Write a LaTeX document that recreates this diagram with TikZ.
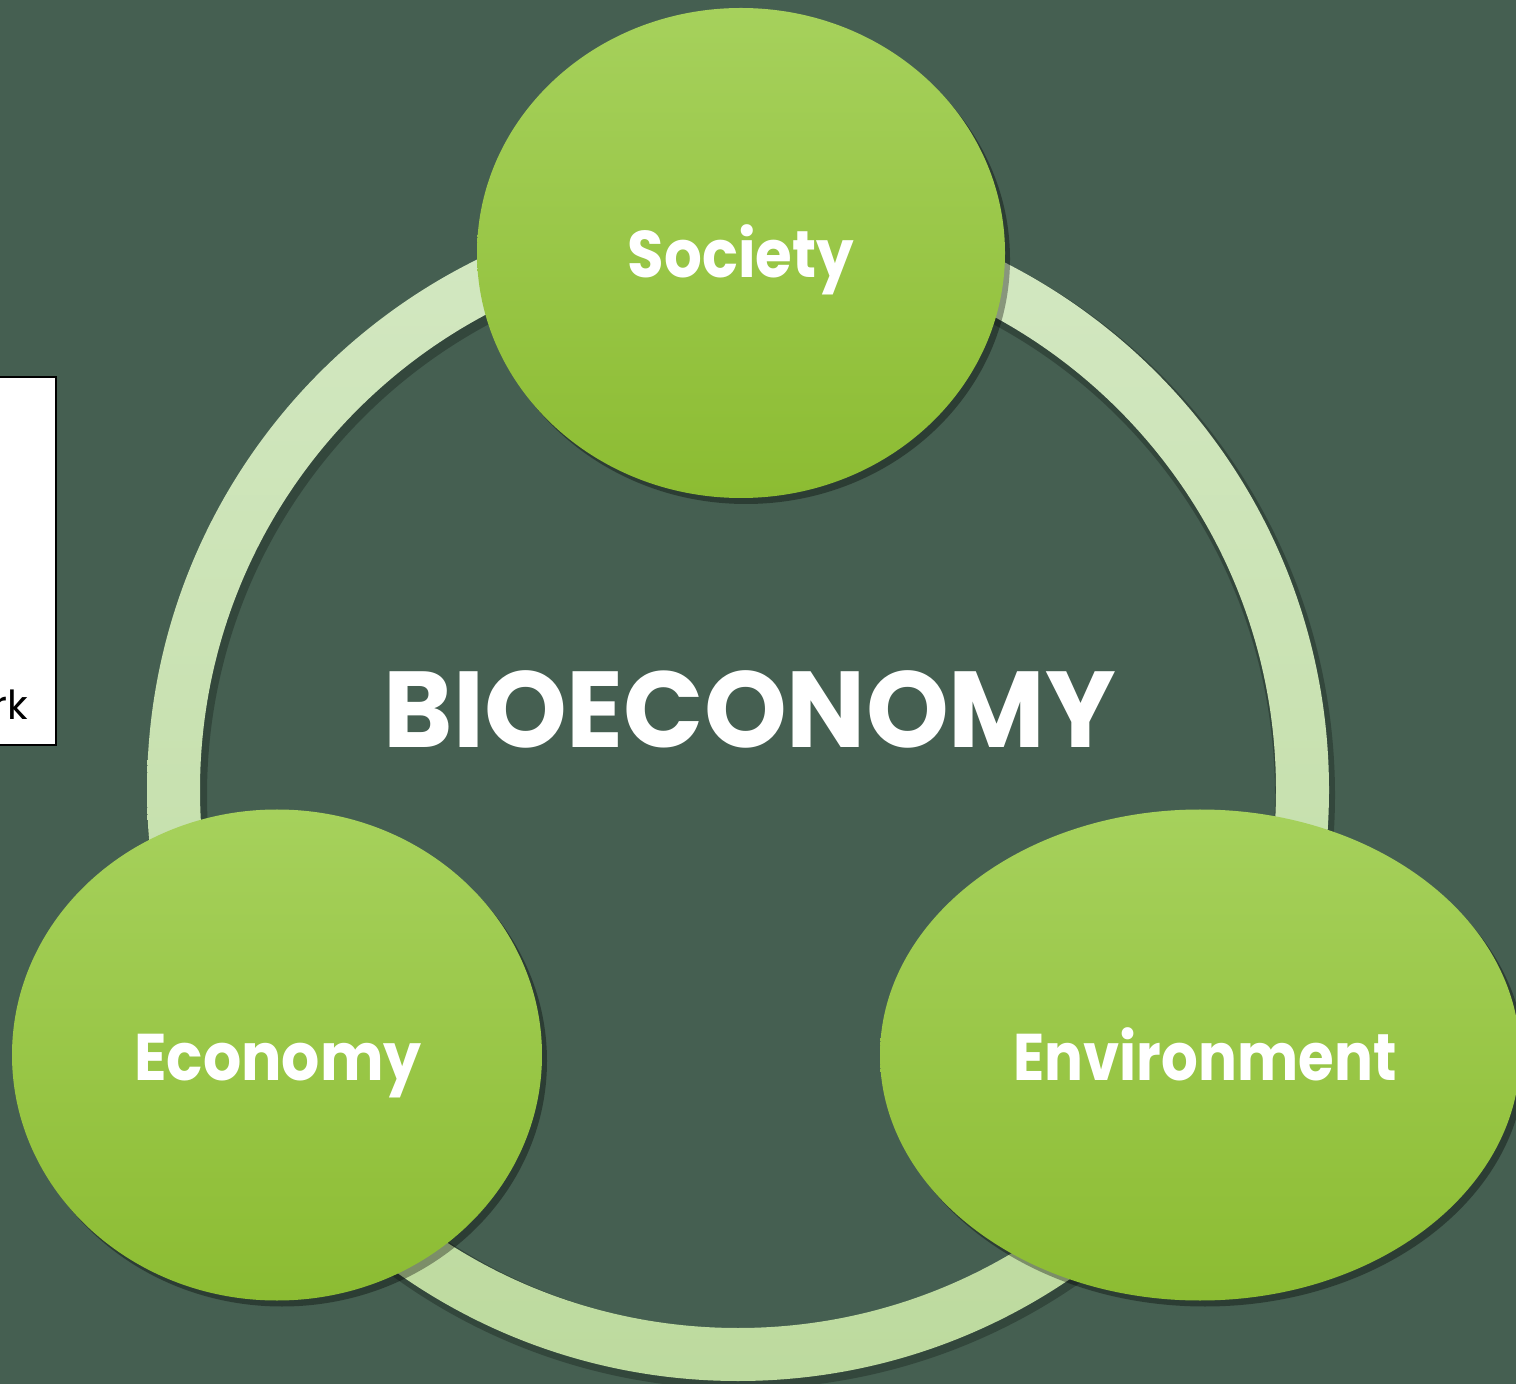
\documentclass[tikz,border=0pt]{standalone}
\usepackage{fontspec}
\usepackage{graphicx}
\setmainfont{Poppins}
\usetikzlibrary{shapes.geometric,shadows}
\definecolor{bg}{HTML}{455F51}
\definecolor{bubtop}{HTML}{A6D15C}
\definecolor{bubbot}{HTML}{8CBC32}
\definecolor{ringtop}{HTML}{D3E8C2}
\definecolor{ringbot}{HTML}{BDDA9E}
\newcommand{\hsq}[2]{\scalebox{#1}[1]{#2}}
\begin{document}
\begin{tikzpicture}[x=0.5pt,y=-0.5pt,
  bubble/.style={ellipse, inner sep=0pt, top color=bubtop, bottom color=bubbot,
    drop shadow={shadow xshift=2.5pt, shadow yshift=-3pt, opacity=0.35, fill=black}},
  lab/.style={text=white, anchor=base, font=\bfseries\fontsize{33}{36}\selectfont},
  bigtitle/.style={text=white, anchor=base, font=\bfseries\fontsize{54}{60}\selectfont}]
\useasboundingbox (0,0) rectangle (1516,1384);
\fill[bg] (0,0) rectangle (1516,1384);
% left white box
\draw[line width=1.2pt, fill=white] (-10,377) rectangle (56,745);
\node[anchor=base east, inner sep=0pt, font=\fontsize{20}{24}\selectfont] (rk) at (28,720) {rk};
% ring
\coordinate (c) at (738,790);
\coordinate (cs) at (741,795);
\fill[black, opacity=0.25, even odd rule] (cs) circle (297pt) (cs) circle (267pt);
\shade[top color=ringtop, bottom color=ringbot, even odd rule] (c) circle (295.5pt) (c) circle (269pt);
% bubbles
\node[bubble, minimum width=264pt, minimum height=245pt] (soc) at (741,253) {};
\node[bubble, minimum width=265pt, minimum height=245.5pt] (eco) at (277,1055) {};
\node[bubble, minimum width=320pt, minimum height=245.5pt] (env) at (1200,1055) {};
% labels
\node[lab] (soct) at (741,278) {\hsq{0.9}{Society}};
\node[lab] (ecot) at (278,1080) {\hsq{0.91}{Economy}};
\node[lab] (envt) at (1205,1080) {\hsq{0.875}{Environment}};
\node[bigtitle] (bio) at (750,748) {\hsq{0.975}{BIOECONOMY}};
\end{tikzpicture}
\end{document}
